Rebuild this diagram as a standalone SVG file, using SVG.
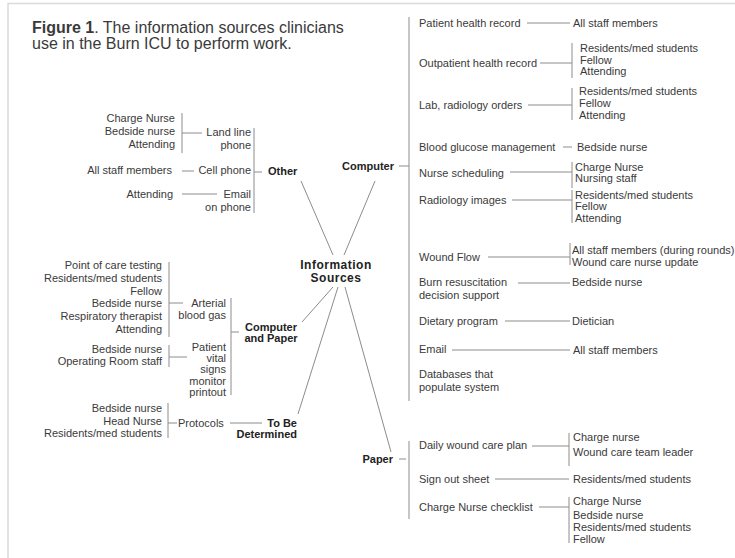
<svg xmlns="http://www.w3.org/2000/svg" width="735" height="558" viewBox="0 0 735 558">
  <style>
    text { font-family: "Liberation Sans", Arial, sans-serif; font-size: 11px; fill: #3a3a3a; }
    .e { text-anchor: end; }
    .m { text-anchor: middle; }
    .b { font-weight: bold; fill: #222; }
    .hub { font-weight: bold; font-size: 12px; letter-spacing: 0.5px; fill: #222; }
    .title { font-size: 16px; }
    .ln { stroke: #8c8c8c; stroke-width: 1; fill: none; }
    .frame { stroke: #dadada; stroke-width: 1.5; fill: none; }
  </style>
  <rect width="735" height="558" fill="#fff"/>
  <path class="frame" d="M8,558 V3.5 H735"/>

  <g id="caption">
    <text class="title" x="32" y="33"><tspan font-weight="bold">Figure 1</tspan>. The information sources clinicians</text>
    <text class="title" x="32" y="49">use in the Burn ICU to perform work.</text>
  </g>

  <!-- all connecting lines and brackets -->
  <g id="connectors" class="ln">
    <!-- spokes from the hub -->
    <path d="M333,255 L301,181"/>
    <path d="M344,255 L375,181"/>
    <path d="M333,287 L302,322"/>
    <path d="M338,287 L298,414"/>
    <path d="M345,287 L391,452"/>
    <!-- Other -->
    <path d="M182,113 V153 M182,133 H202"/>
    <path d="M182,171 H194"/>
    <path d="M182,194 H217"/>
    <path d="M254,128 V213 M254,172 H262"/>
    <!-- Computer and Paper -->
    <path d="M169,262 V337 M169,303 H183"/>
    <path d="M169,345 V367 M169,357 H187"/>
    <path d="M231,298 V395 M231,332 H239"/>
    <!-- To Be Determined -->
    <path d="M168,403 V438 M168,423 H177"/>
    <path d="M230,423 H262"/>
    <!-- Computer -->
    <path d="M399,166 H409 M409,17 V401"/>
    <path d="M527,23 H570"/>
    <path d="M540,63 H572 M572,43 V78"/>
    <path d="M528,105 H572 M572,88 V120"/>
    <path d="M563,147 H572"/>
    <path d="M510,172 H572 M572,162 V188"/>
    <path d="M512,200 H572 M572,190 V223"/>
    <path d="M488,257 H570 M570,243 V265"/>
    <path d="M518,283 H570"/>
    <path d="M505,321 H570"/>
    <path d="M452,350 H570"/>
    <!-- Paper -->
    <path d="M399,459 H406 M409,441 V519"/>
    <path d="M532,446 H569 M569,433 V466"/>
    <path d="M495,479 H569"/>
    <path d="M539,507 H569 M569,497 V543"/>
  </g>

  <g id="hub">
    <text class="hub m" x="336" y="268.5">Information</text>
    <text class="hub m" x="336" y="282">Sources</text>
  </g>

  <!-- Other -->
  <g id="other">
    <text class="b" x="268" y="175">Other</text>
  </g>
  <g id="land-line-phone">
    <text class="e" x="251" y="136">Land line</text>
    <text class="e" x="251" y="149">phone</text>
    <text class="e" x="175" y="122">Charge Nurse</text>
    <text class="e" x="175" y="135">Bedside nurse</text>
    <text class="e" x="175" y="148">Attending</text>
  </g>
  <g id="cell-phone">
    <text class="e" x="251" y="174">Cell phone</text>
    <text class="e" x="172" y="174">All staff members</text>
  </g>
  <g id="email-on-phone">
    <text class="e" x="251" y="198">Email</text>
    <text class="e" x="251" y="211">on phone</text>
    <text class="e" x="173" y="198">Attending</text>
  </g>

  <!-- Computer and Paper -->
  <g id="computer-and-paper">
    <text class="b m" x="271" y="331">Computer</text>
    <text class="b m" x="271" y="342">and Paper</text>
  </g>
  <g id="arterial-blood-gas">
    <text class="e" x="226" y="307">Arterial</text>
    <text class="e" x="226" y="319">blood gas</text>
    <text class="e" x="162" y="269">Point of care testing</text>
    <text class="e" x="162" y="282">Residents/med students</text>
    <text class="e" x="162" y="295">Fellow</text>
    <text class="e" x="162" y="307">Bedside nurse</text>
    <text class="e" x="162" y="320">Respiratory therapist</text>
    <text class="e" x="162" y="333">Attending</text>
  </g>
  <g id="vital-signs-printout">
    <text class="e" x="226" y="351">Patient</text>
    <text class="e" x="226" y="362">vital</text>
    <text class="e" x="226" y="373">signs</text>
    <text class="e" x="226" y="385">monitor</text>
    <text class="e" x="226" y="396">printout</text>
    <text class="e" x="162" y="353">Bedside nurse</text>
    <text class="e" x="162" y="365">Operating Room staff</text>
  </g>

  <!-- To Be Determined -->
  <g id="to-be-determined">
    <text class="b e" x="297" y="427">To Be</text>
    <text class="b e" x="297" y="438">Determined</text>
  </g>
  <g id="protocols">
    <text x="178" y="427">Protocols</text>
    <text class="e" x="162" y="412">Bedside nurse</text>
    <text class="e" x="162" y="425">Head Nurse</text>
    <text class="e" x="162" y="437">Residents/med students</text>
  </g>

  <!-- Computer -->
  <g id="computer">
    <text class="b" x="342" y="170">Computer</text>
  </g>
  <g id="patient-health-record">
    <text x="419" y="27">Patient health record</text>
    <text x="573" y="27">All staff members</text>
  </g>
  <g id="outpatient-health-record">
    <text x="419" y="67">Outpatient health record</text>
    <text x="580" y="52">Residents/med students</text>
    <text x="580" y="64">Fellow</text>
    <text x="580" y="75">Attending</text>
  </g>
  <g id="lab-radiology-orders">
    <text x="419" y="109">Lab, radiology orders</text>
    <text x="579" y="95">Residents/med students</text>
    <text x="579" y="107">Fellow</text>
    <text x="579" y="119">Attending</text>
  </g>
  <g id="blood-glucose">
    <text x="419" y="151">Blood glucose management</text>
    <text x="577" y="151">Bedside nurse</text>
  </g>
  <g id="nurse-scheduling">
    <text x="419" y="177">Nurse scheduling</text>
    <text x="575" y="171">Charge Nurse</text>
    <text x="575" y="182">Nursing staff</text>
  </g>
  <g id="radiology-images">
    <text x="419" y="204">Radiology images</text>
    <text x="575" y="199">Residents/med students</text>
    <text x="575" y="210">Fellow</text>
    <text x="575" y="222">Attending</text>
  </g>
  <g id="wound-flow">
    <text x="419" y="261">Wound Flow</text>
    <text x="572" y="254">All staff members (during rounds)</text>
    <text x="572" y="266">Wound care nurse update</text>
  </g>
  <g id="burn-resuscitation">
    <text x="419" y="286">Burn resuscitation</text>
    <text x="419" y="299">decision support</text>
    <text x="572" y="286">Bedside nurse</text>
  </g>
  <g id="dietary-program">
    <text x="419" y="325">Dietary program</text>
    <text x="572" y="325">Dietician</text>
  </g>
  <g id="email">
    <text x="419" y="353">Email</text>
    <text x="573" y="354">All staff members</text>
  </g>
  <g id="databases">
    <text x="419" y="378">Databases that</text>
    <text x="419" y="391">populate system</text>
  </g>

  <!-- Paper -->
  <g id="paper">
    <text class="b e" x="393" y="463">Paper</text>
  </g>
  <g id="daily-wound-care-plan">
    <text x="419" y="449">Daily wound care plan</text>
    <text x="573" y="441">Charge nurse</text>
    <text x="573" y="456">Wound care team leader</text>
  </g>
  <g id="sign-out-sheet">
    <text x="419" y="483">Sign out sheet</text>
    <text x="573" y="483">Residents/med students</text>
  </g>
  <g id="charge-nurse-checklist">
    <text x="419" y="511">Charge Nurse checklist</text>
    <text x="573" y="505">Charge Nurse</text>
    <text x="573" y="519">Bedside nurse</text>
    <text x="573" y="531">Residents/med students</text>
    <text x="573" y="543">Fellow</text>
  </g>
</svg>
